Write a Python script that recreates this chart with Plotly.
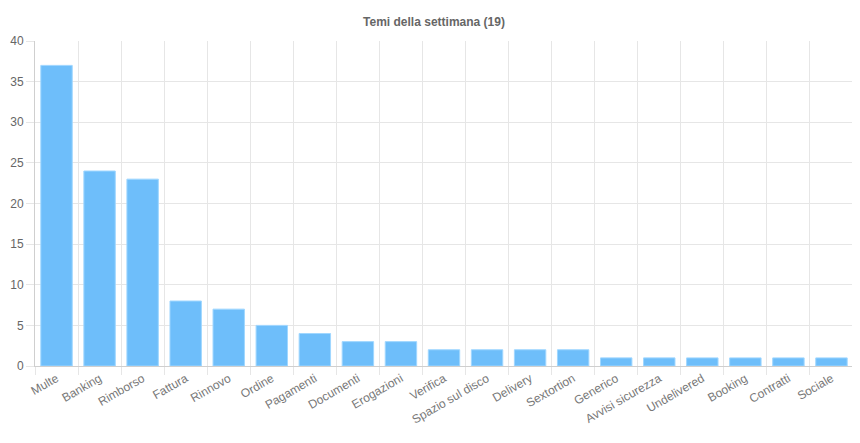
import plotly.graph_objects as go

# Temi della settimana
temi = ['Multe', 'Banking', 'Rimborso', 'Fattura', 'Rinnovo', 'Ordine', 'Pagamenti',
        'Documenti', 'Erogazioni', 'Verifica', 'Spazio sul disco', 'Delivery', 'Sextortion',
        'Generico', 'Avvisi sicurezza', 'Undelivered', 'Booking', 'Contratti', 'Sociale']
conteggi = [37, 24, 23, 8, 7, 5, 4, 3, 3, 2, 2, 2, 2, 1, 1, 1, 1, 1, 1]
y_ticks = [0, 5, 10, 15, 20, 25, 30, 35, 40]

fig = go.Figure()
fig.add_trace(go.Bar(
    x=temi, y=conteggi,
    marker=dict(color='rgba(110,190,250,1)', line=dict(color='rgba(160,215,255,1)', width=1)),
    hoverinfo='x+y',
))

# la pagina ha un margine di 8px, quindi la figura è un po' più piccola
fig.update_layout(
    width=852, height=435,
    margin=dict(l=27, r=7, t=33, b=77),
    paper_bgcolor='white', plot_bgcolor='white',
    font=dict(family='Liberation Sans, Arial, sans-serif', size=12, color='#666'),
    title=dict(text='<b>Temi della settimana (19)</b>', x=0.5, xanchor='center',
               y=0.968, yanchor='middle', font=dict(size=12, color='#666')),
    bargap=0.27,
    showlegend=False,
)
fig.update_xaxes(
    type='category', tickson='boundaries', tickangle=-30,
    showgrid=True, gridcolor='#e6e6e6', gridwidth=1,
    showline=True, linecolor='#cfcfcf', linewidth=1,
    ticks='outside', ticklen=8, tickcolor='#e6e6e6',
    tickfont=dict(size=12, color='#777'),
    automargin=False,
)
fig.update_yaxes(
    range=[0, 40], tickvals=y_ticks,
    showgrid=True, gridcolor='#e6e6e6', gridwidth=1,
    showline=True, linecolor='#cfcfcf', linewidth=1,
    zeroline=False,
    ticks='outside', ticklen=8, tickcolor='#e6e6e6',
    tickfont=dict(size=12, color='#666'),
    automargin=False,
)

fig.write_html("out.html")
